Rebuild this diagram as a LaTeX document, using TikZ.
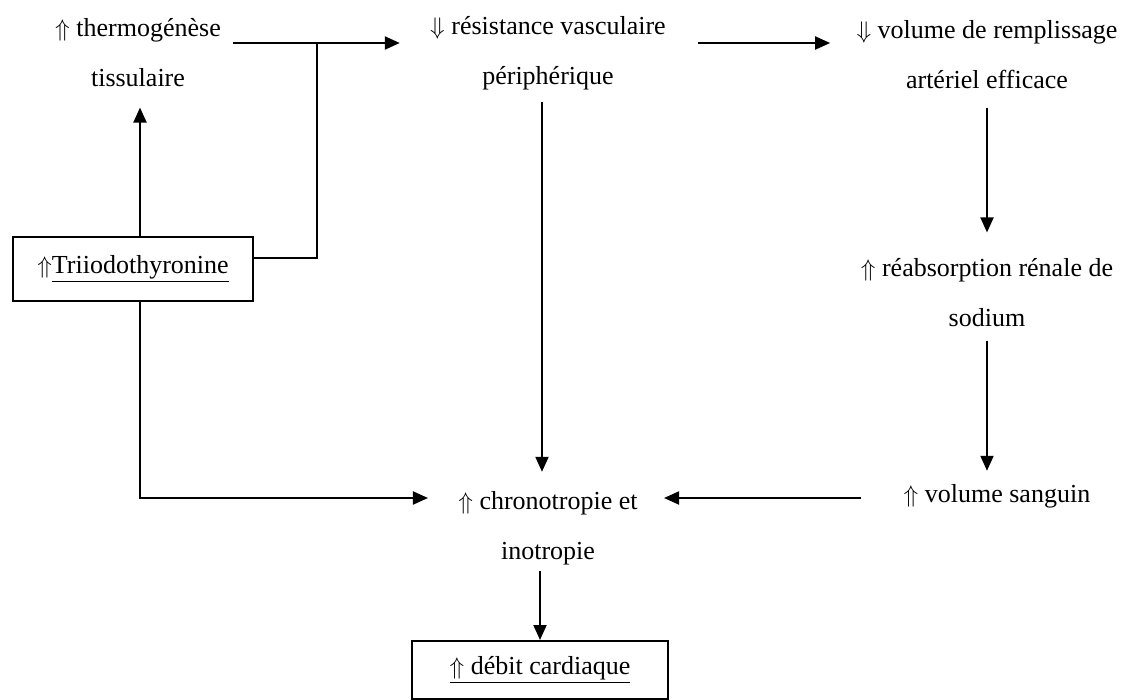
\documentclass[tikz,border=0pt]{standalone}
\usepackage{fontspec}
\setmainfont{Liberation Serif}
\usetikzlibrary{calc, positioning}
\usetikzlibrary{arrows.meta}

\begin{document}
\begin{tikzpicture}[x=0.5pt, y=-0.5pt,
  every node/.style={font=\fontsize{13}{25}\selectfont, align=center, inner sep=3pt},
  boite/.style={draw, line width=1pt},
  fleche/.style={line width=1pt, -{Triangle[length=7.5pt, width=6.5pt]}},
  trait/.style={line width=1pt}]
\useasboundingbox (0,0) rectangle (1131,700);

\node (thermo) at (138,53) {$\Uparrow$ thermogénèse\\tissulaire};
\node (resist) at (548,53) {$\Downarrow$ résistance vasculaire\\périphérique};
\node (remp) at (987,55) {$\Downarrow$ volume de remplissage\\artériel efficace};
\node[boite, minimum width=120pt, minimum height=32pt] (triio) at (133,269) {$\Uparrow$\underline{Triiodothyronine}};
\node (reabs) at (987,293) {$\Uparrow$ réabsorption rénale de\\sodium};
\node (sang) at (997,496) {$\Uparrow$ volume sanguin};
\node (chrono) at (548,528) {$\Uparrow$ chronotropie et\\inotropie};
\node[boite, minimum width=128pt, minimum height=29pt, anchor=north] (debit) at (540,640) {\underline{$\Uparrow$ débit cardiaque}};

\coordinate (jT) at (317,43);
\coordinate (jB) at (317,258);
\coordinate (jC) at (140,498);

\draw[fleche, shorten <=3pt, shorten >=12pt] (thermo.east |- jT) -- (resist.west |- jT);
\draw[trait] (triio.east |- jB) -- (jB) -- (jT);
\draw[fleche, shorten >=7pt] (jC |- triio.north) -- (jC |- thermo.south);
\draw[fleche, shorten >=12pt] (jC |- triio.south) -- (jC) -- (jC -| chrono.west);
\draw[fleche, shorten <=13pt, shorten >=10pt] (resist.east |- jT) -- (remp.west |- jT);
\draw[fleche, shorten <=3pt, shorten >=6.5pt] ([xshift=-3pt]resist.south) -- ([xshift=-3pt]resist.south |- chrono.north);
\draw[fleche, shorten <=6pt, shorten >=10pt] (remp.south) -- (remp.south |- reabs.north);
\draw[fleche, shorten <=3.5pt, shorten >=3.5pt] (reabs.south) -- (reabs.south |- sang.north);
\draw[fleche, shorten <=18pt, shorten >=10pt] (sang.west |- jC) -- (chrono.east |- jC);
\draw[fleche] (chrono.south -| debit.north) -- (debit.north);

\end{tikzpicture}
\end{document}
